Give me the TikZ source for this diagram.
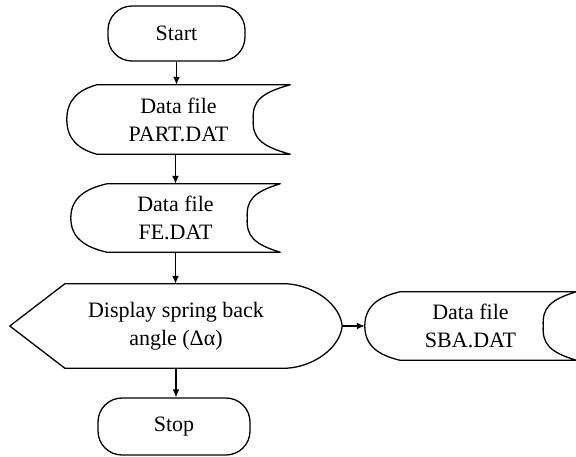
\documentclass[tikz,border=0pt]{standalone}
\usepackage{fontspec}
\setmainfont{Liberation Serif}
\usetikzlibrary{arrows.meta,calc}
\tikzset{
  shp/.style={line width=1.3pt, line join=round},
  box/.style={inner sep=0pt, align=center, font=\fontsize{22}{28}\selectfont},
  term/.style={box, draw, line width=1.3pt, rounded corners=24pt},
  arr/.style={line width=1.4pt, -{Latex[length=8pt,width=7pt]}}
}
\newcommand\dfshape[3]{%
 \draw[shp] ([xshift=#2]#1.north west) -- (#1.north east)
   .. controls ([xshift=-0.8*#3, yshift=-8pt]#1.north east) and ([xshift=-#3-1pt, yshift=18pt]#1.east) .. ([xshift=-#3]#1.east)
   .. controls ([xshift=-#3-1pt, yshift=-18pt]#1.east) and ([xshift=-0.8*#3, yshift=8pt]#1.south east) .. (#1.south east)
   -- ([xshift=#2]#1.south west)
   .. controls ([xshift=0.4*#2, yshift=5pt]#1.south west) and ([yshift=-20pt]#1.west) .. (#1.west)
   .. controls ([yshift=20pt]#1.west) and ([xshift=0.4*#2, yshift=-5pt]#1.north west) .. cycle;}
\begin{document}
\begin{tikzpicture}[x=1pt,y=-1pt]
\useasboundingbox (0,0) rectangle (576,456);
\node[term, minimum width=137pt, minimum height=55pt] (start) at (176.5,33.5) {Start};
\node[box, minimum width=223pt, minimum height=69pt] (part) at (178.5,119.5) {Data file\\PART.DAT};
\node[box, minimum width=209pt, minimum height=68pt] (fe) at (175.5,218) {Data file\\FE.DAT};
\node[box, minimum width=332pt, minimum height=84pt] (disp) at (176,326) {Display spring back\\angle (Δα)};
\node[box, minimum width=211pt, minimum height=68pt] (sba) at (470.5,326) {Data file\\SBA.DAT};
\node[term, minimum width=152pt, minimum height=57pt] (stop) at (174,426.5) {Stop};
\dfshape{part}{30pt}{37pt}
\dfshape{fe}{36pt}{33pt}
\dfshape{sba}{35pt}{33pt}
\draw[shp] ([xshift=55pt]disp.north west) -- ([xshift=-55pt]disp.north east)
  .. controls ([xshift=-27pt,yshift=-2pt]disp.north east) and ([xshift=-2pt,yshift=21pt]disp.east) .. (disp.east)
  .. controls ([xshift=-2pt,yshift=-21pt]disp.east) and ([xshift=-27pt,yshift=2pt]disp.south east) .. ([xshift=-55pt]disp.south east)
  -- ([xshift=55pt]disp.south west) -- (disp.west) -- cycle;
\draw[arr] (start.south) -- (start.south |- part.north);
\draw[arr] (fe.north |- part.south) -- (fe.north);
\draw[arr] (fe.south) -- (fe.south |- disp.north);
\draw[arr] (disp.south) -- (disp.south |- stop.north);
\draw[arr] (disp.east) -- (sba.west);
\end{tikzpicture}
\end{document}
